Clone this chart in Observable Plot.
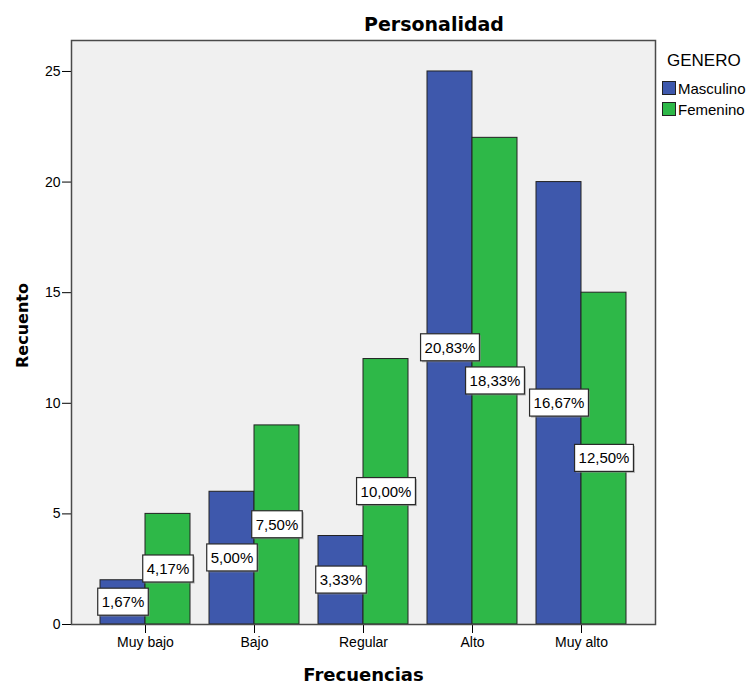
<!DOCTYPE html>
<html lang="es">
<head>
<meta charset="utf-8">
<title>Personalidad</title>
<script src="https://cdn.jsdelivr.net/npm/d3@7"></script>
<script src="https://cdn.jsdelivr.net/npm/@observablehq/plot@0.6"></script>
<style>
  body { margin: 0; background: #fff; }
  #grafico { position: relative; width: 748px; height: 686px; }
  #leyenda { position: absolute; left: 0; top: 0; font-family: "Liberation Sans", Arial, sans-serif; color: #000; }
  #leyenda .titulo { position: absolute; left: 667px; top: 52px; font-size: 17px; line-height: 17px; white-space: nowrap; }
  #leyenda .item { position: absolute; left: 662px; white-space: nowrap; font-size: 15px; line-height: 15px; }
  #leyenda .muestra { display: inline-block; width: 12px; height: 12px; border: 1px solid #222; vertical-align: -1px; margin-right: 2px; }
</style>
</head>
<body>
<div id="grafico"></div>
<script>
// Recuento por nivel de personalidad y género
const categorias = ["Muy bajo", "Bajo", "Regular", "Alto", "Muy alto"];
const generos = ["Masculino", "Femenino"];
const masculino = [2, 6, 4, 25, 20];
const femenino = [5, 9, 12, 22, 15];
const colores = ["#3E58AC", "#2EB848"];
const ticksY = [0, 5, 10, 15, 20, 25];

const total = d3.sum(masculino) + d3.sum(femenino);
const filas = categorias.flatMap((c, i) => [
  {categoria: c, genero: generos[0], recuento: masculino[i]},
  {categoria: c, genero: generos[1], recuento: femenino[i]}
]);
const porcentaje = (v) => (v / total * 100).toFixed(2).replace(".", ",") + "%";
const deGenero = (g) => filas.filter((d) => d.genero === g);

const mitad = 45;   // half a category band (px): each gender takes one half
const cuarto = 22.5; // centre of each half relative to the band centre

const svg = Plot.plot({
  width: 748,
  height: 686,
  marginLeft: 71,
  marginRight: 93,
  marginTop: 40,
  marginBottom: 62,
  style: {fontFamily: "'Liberation Sans', Arial, sans-serif", fontSize: "14px", color: "#000", background: "transparent", overflow: "visible"},
  x: {domain: categorias, paddingInner: 0.1743, paddingOuter: 0.266, label: null, tickSize: 9, tickPadding: 4},
  y: {domain: [0, 26.4], ticks: ticksY, label: null, tickSize: 9, tickPadding: 2},
  color: {domain: generos, range: colores},
  marks: [
    Plot.frame({fill: "#F0F0F0"}),
    Plot.barY(deGenero("Masculino"), {x: "categoria", y: "recuento", fill: "genero", stroke: "#222", strokeWidth: 1, insetRight: mitad}),
    Plot.barY(deGenero("Femenino"), {x: "categoria", y: "recuento", fill: "genero", stroke: "#222", strokeWidth: 1, insetLeft: mitad}),
    Plot.frame({stroke: "#4a4a4a", strokeWidth: 1.5}),
    Plot.text(deGenero("Masculino"), {x: "categoria", y: (d) => d.recuento / 2, text: (d) => porcentaje(d.recuento), dx: -cuarto, fontSize: 15, fill: "#000"}),
    Plot.text(deGenero("Femenino"), {x: "categoria", y: (d) => d.recuento / 2, text: (d) => porcentaje(d.recuento), dx: cuarto, fontSize: 15, fill: "#000"}),
    Plot.text(["Personalidad"], {frameAnchor: "top", textAnchor: "middle", lineAnchor: "middle", dx: 70.5, dy: -15.5, fontSize: 19, fontWeight: "bold", fontFamily: "'DejaVu Sans', sans-serif", fill: "#000"}),
    Plot.text(["Recuento"], {frameAnchor: "left", textAnchor: "middle", lineAnchor: "middle", rotate: -90, dx: -49, dy: -7, fontSize: 16, fontWeight: "bold", fontFamily: "'DejaVu Sans', sans-serif", fill: "#000"}),
    Plot.text(["Frecuencias"], {frameAnchor: "bottom", textAnchor: "middle", lineAnchor: "middle", dy: 51, fontSize: 18, fontWeight: "bold", fontFamily: "'DejaVu Sans', sans-serif", fill: "#000"})
  ]
});

const contenedor = document.getElementById("grafico");
contenedor.appendChild(svg);

// White label boxes with a thin border and soft shadow behind each percentage
d3.select(svg).selectAll("text")
  .filter(function () { return /%$/.test(this.textContent) && !this.closest("[aria-label$='axis']"); })
  .each(function () {
    const caja = this.getBBox();
    const padX = 4, padY = 5;
    const g = this.parentNode;
    const t = this.getAttribute("transform");
    const sombra = document.createElementNS("http://www.w3.org/2000/svg", "rect");
    const rect = document.createElementNS("http://www.w3.org/2000/svg", "rect");
    for (const [r, off] of [[sombra, 1.5], [rect, 0]]) {
      r.setAttribute("x", caja.x - padX + off);
      r.setAttribute("y", caja.y - padY + off);
      r.setAttribute("width", caja.width + 2 * padX);
      r.setAttribute("height", caja.height + 2 * padY);
      if (t) r.setAttribute("transform", t);
    }
    sombra.setAttribute("fill", "#8a8a8a");
    sombra.setAttribute("opacity", "0.6");
    rect.setAttribute("fill", "#fff");
    rect.setAttribute("stroke", "#2a2a2a");
    rect.setAttribute("stroke-width", "1.2");
    g.insertBefore(sombra, this);
    g.insertBefore(rect, this);
  });

// Legend
const leyenda = document.createElement("div");
leyenda.id = "leyenda";
const titulo = document.createElement("div");
titulo.className = "titulo";
titulo.textContent = "GENERO";
leyenda.appendChild(titulo);
generos.forEach((g, i) => {
  const item = document.createElement("div");
  item.className = "item";
  item.style.top = (81 + i * 21) + "px";
  const m = document.createElement("span");
  m.className = "muestra";
  m.style.background = colores[i];
  item.appendChild(m);
  item.appendChild(document.createTextNode(g));
  leyenda.appendChild(item);
});
contenedor.appendChild(leyenda);
</script>
</body>
</html>
